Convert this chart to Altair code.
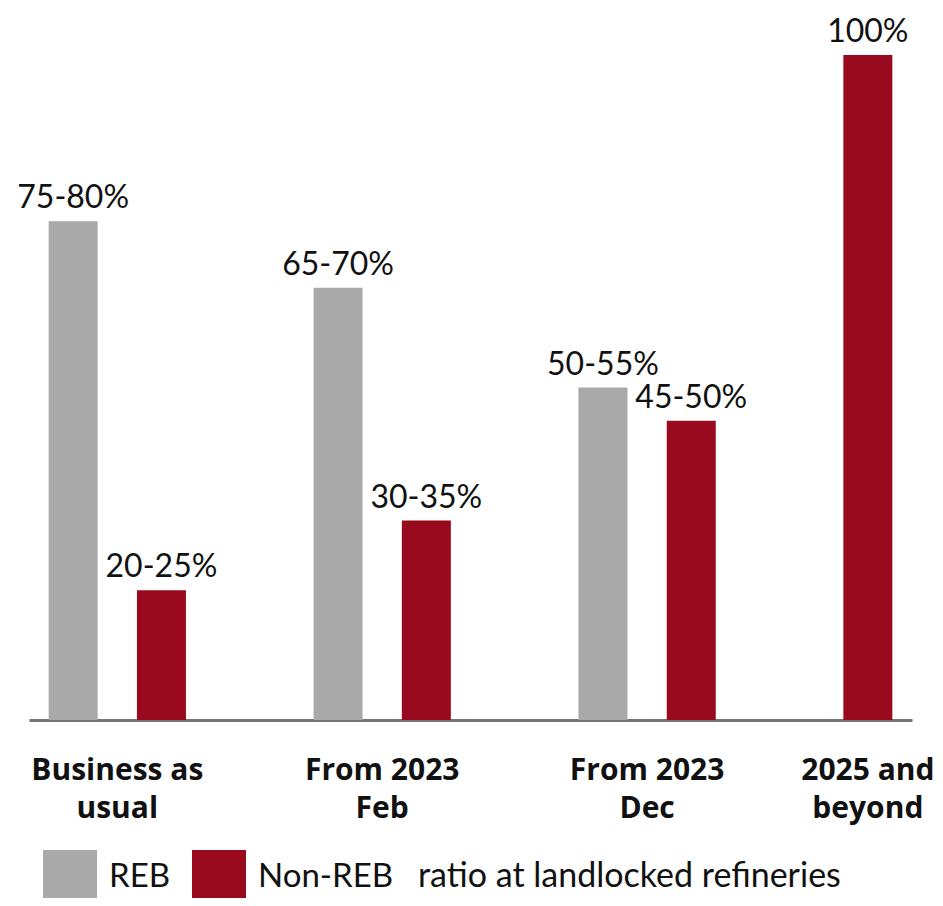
import altair as alt
import pandas as pd

# ---- data ----
groups = ["Business as usual", "From 2023 Feb", "From 2023 Dec", "2025 and beyond"]
group_labels = ["Business as\nusual", "From 2023\nFeb", "From 2023\nDec", "2025 and\nbeyond"]
series = ["REB", "Non-REB"]
reb_values = [75, 65, 50, None]
non_reb_values = [19.5, 30, 45, 100]
reb_labels = ["75-80%", "65-70%", "50-55%", None]
non_reb_labels = ["20-25%", "30-35%", "45-50%", "100%"]

GRAY = "#A9A9A9"
RED = "#990A1E"

# ---- build tables: each bar gets a slot index derived from group order ----
rows = []
label_rows = []
for i, g in enumerate(groups):
    k = 0
    slots = []
    for s, vals, labs in ((series[0], reb_values, reb_labels),
                          (series[1], non_reb_values, non_reb_labels)):
        v = vals[i]
        if v is None:
            continue
        pos = i * 3 + k
        k += 1
        slots.append(pos)
        rows.append({"group": g, "series": s, "value": v, "label": labs[i], "pos": pos})
    label_rows.append({"group": g, "text": group_labels[i], "pos": sum(slots) / len(slots)})

df = pd.DataFrame(rows)
ldf = pd.DataFrame(label_rows)

xscale = alt.Scale(domain=[-0.5, 9.5], nice=False, zero=False, padding=0)
yscale = alt.Scale(domain=[0, 100], nice=False)

bars = alt.Chart(df).mark_bar(size=49).encode(
    x=alt.X("pos:Q", scale=xscale,
            axis=alt.Axis(labels=False, ticks=False, grid=False, title=None,
                          domainColor="#767676", domainWidth=3)),
    y=alt.Y("value:Q", scale=yscale, axis=None),
    color=alt.Color(
        "series:N",
        scale=alt.Scale(domain=series, range=[GRAY, RED]),
        legend=alt.Legend(
            orient="none", legendX=14, legendY=795, direction="horizontal",
            symbolType="square", symbolSize=2916, symbolStrokeWidth=0,
            labelFont="Lato", labelFontSize=33, labelColor="#111111",
            labelOffset=12, columnPadding=21, padding=0, labelLimit=400,
            title="ratio at landlocked refineries", titleOrient="right",
            titleFont="Lato", titleFontSize=34, titleFontWeight="normal",
            titleColor="#111111", titlePadding=25, titleBaseline="middle",
            titleLimit=1000,
        ),
    ),
)

values = alt.Chart(df).mark_text(
    font="Lato", fontSize=32, baseline="alphabetic", align="center", dy=-13, color="#111111"
).encode(
    x=alt.X("pos:Q", scale=xscale),
    y=alt.Y("value:Q", scale=yscale),
    text="label:N",
)

glabels = alt.Chart(ldf).mark_text(
    font="Open Sans", fontWeight="bold", fontSize=30, lineHeight=38, lineBreak="\n",
    baseline="alphabetic", align="center", color="#111111"
).encode(
    x=alt.X("pos:Q", scale=xscale),
    y=alt.value(725),
    text="text:N",
)

chart = alt.layer(bars, values, glabels).properties(
    width=883, height=665,
    padding={"left": 21, "top": 47, "right": 23, "bottom": 178},
    autosize=alt.AutoSizeParams(type="none"),
).configure_view(stroke=None)

chart.save("out.html", embed_options={"renderer": "svg", "actions": False})
